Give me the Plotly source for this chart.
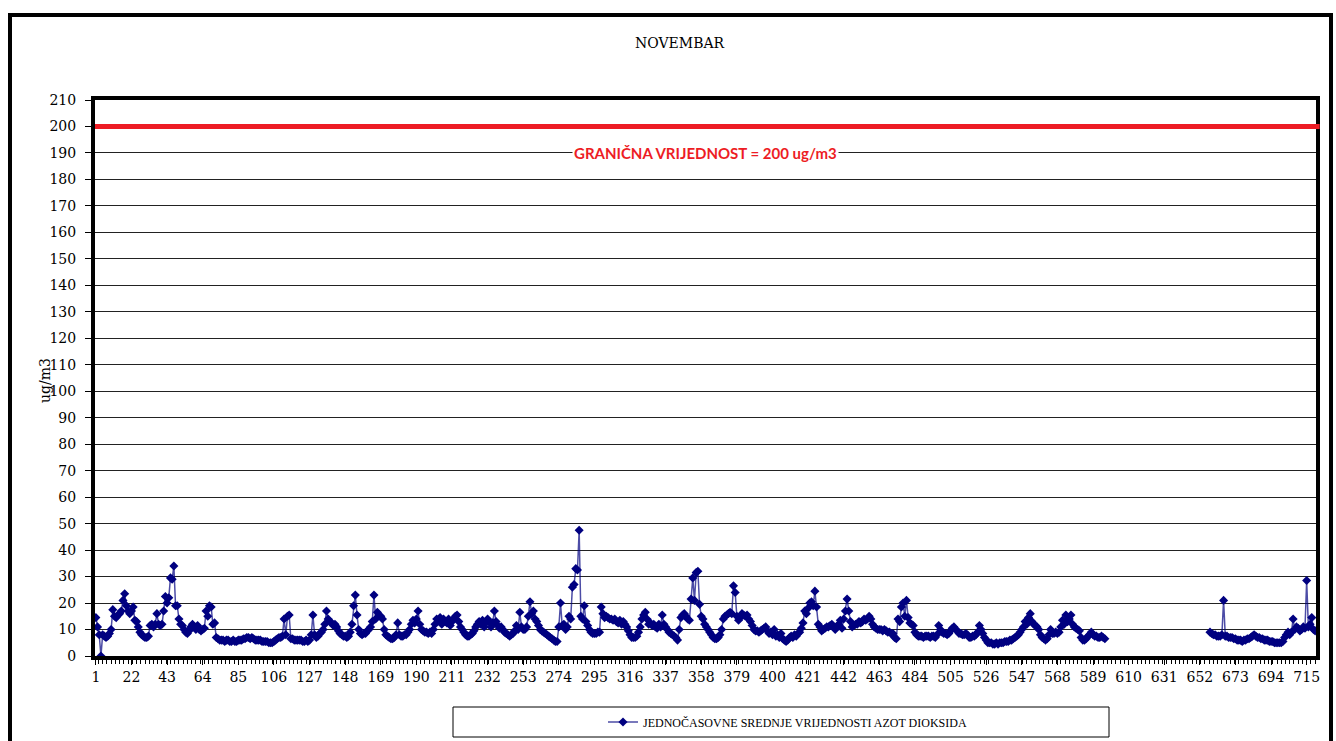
import plotly.graph_objects as go

# Hourly NO2 values, November (720 hours); None = missing data
day01 = [14.5, 11, 8, 0, 8, 7.5, 7, 7.5, 8.5, 10, 17.5, 15, 14.5, 15.5, 16, 17, 21, 23.5, 19, 17, 16, 17, 18.5, 13.5]
day02 = [13, 11, 9, 8, 7.5, 7, 7, 7.5, 11.5, 12, 11, 12, 16, 12, 11.5, 12, 17, 22.5, 20, 22, 29.5, 29, 34, 19]
day03 = [19, 14, 12, 11.5, 10, 9, 8.5, 9.5, 11, 12, 11, 10, 11.5, 10, 9.5, 10, 10.5, 17, 15, 19, 18.5, 12, 12.5, 7]
day04 = [6.5, 6, 6, 6, 5.5, 6, 6, 5.5, 5.5, 6, 5.5, 5.5, 6, 6, 6, 6.5, 6.5, 7, 7, 6.5, 7, 6.5, 6, 6]
day05 = [6, 6, 5.5, 5.5, 5.5, 5.5, 5, 5, 5, 5.5, 6, 6.5, 7, 7, 7.5, 14, 8, 15, 15.5, 6.5, 6.5, 6, 6, 6]
day06 = [6, 6, 5.5, 5.5, 6, 5.5, 6, 8, 15.5, 8, 7, 7.5, 8.5, 9, 10, 12, 17, 14, 13, 12.5, 11.5, 12, 11, 9.5]
day07 = [8.5, 8, 7.5, 7.5, 7, 7.5, 9, 12, 19, 23, 15.5, 10, 8.5, 8, 8.5, 8.5, 9.5, 10, 11, 13, 23, 14, 16.5, 15.5]
day08 = [15, 14, 10, 8, 7.5, 7, 6.5, 6.5, 7, 8, 12.5, 8, 7.5, 7.5, 8, 8, 9, 10, 12, 13.5, 12.5, 14, 17, 12]
day09 = [10, 9.5, 9, 9, 8.5, 9, 8.5, 10, 12, 14, 13.5, 14.5, 12, 14, 13, 12.5, 14, 11.5, 13, 14, 15, 15.5, 13, 11]
day10 = [10, 9, 8, 7.5, 7.5, 8, 8.5, 9.5, 11, 12, 13, 12, 13.5, 11, 12.5, 14, 13, 11, 12.5, 17, 13, 11.5, 10.5, 11]
day11 = [10, 9, 8.5, 8, 7.5, 8, 8.5, 9.5, 11.5, 10, 16.5, 11, 10, 10, 11, 15, 20.5, 16, 17, 14, 13, 11.5, 10, 9.5]
day12 = [9, 8.5, 8, 7.5, 7, 6.5, 6, 5.5, 5.5, 11, 20, 11.5, 12, 10, 11, 15, 14, 26, 27, 33, 32.5, 47.5, 15, 14]
day13 = [19, 13, 11.5, 10, 9, 8.5, 8.5, 8.5, 9, 9, 18.5, 16, 14.5, 15, 14.5, 14, 14, 13.5, 14, 13, 12.5, 13.5, 12, 13]
day14 = [12, 11, 9.5, 8, 7, 7, 7, 7.5, 9, 11, 14, 15.5, 16.5, 14, 12, 12.5, 11.5, 12, 11, 10.5, 12, 11, 15.5, 12]
day15 = [11, 10, 9, 8.5, 8, 7.5, 7, 6, 10, 14.5, 15.5, 16, 15, 14, 13.5, 21.5, 29.5, 21, 31.5, 32, 19.5, 15, 14, 12]
day16 = [11, 10, 9, 8, 7, 6.5, 6.5, 7, 8, 10, 14, 15, 15.5, 16, 16.5, 16, 26.5, 24, 15, 13.5, 14.5, 16, 15.5, 15]
day17 = [15.5, 14, 13, 11.5, 10, 9.5, 9.5, 9, 9.5, 10, 10.5, 11, 9.5, 8.5, 9, 8, 10, 7.5, 8, 7, 8.5, 6.5, 6, 5.5]
day18 = [6, 7, 7.5, 7, 8, 7.5, 8.5, 9, 10.5, 12.5, 17, 16, 18, 20, 20.5, 19, 24.5, 18.5, 12, 11, 9.5, 10, 10.5, 11]
day19 = [11, 11.5, 12, 11, 10, 11, 12, 13.5, 10.5, 14, 17, 21.5, 17, 13, 11, 11.5, 12, 12, 13, 12.5, 13, 14, 13.5, 14]
day20 = [15, 14, 12, 11, 10.5, 10, 10, 10, 9.5, 10, 9.5, 9, 9, 8.5, 8.5, 7, 6.5, 14, 13, 18.5, 20, 15, 21, 14.5]
day21 = [12.5, 12, 11.5, 9, 8, 7.5, 7.5, 7.5, 7, 7.5, 7.5, 7.5, 7, 7.5, 7.5, 7, 8, 11.5, 10, 9, 8.5, 8.5, 8, 8.5]
day22 = [9.5, 10.5, 11, 10, 9.5, 8.5, 8.5, 8, 8, 8.5, 8, 7, 7, 7.5, 7.5, 8, 9, 11.5, 10, 8.5, 7, 6, 5, 5]
day23 = [5, 4.5, 4.5, 5, 4.5, 5, 5, 5, 5.5, 5.5, 5.5, 6, 6, 6.5, 7, 7.5, 8, 9, 10, 11, 13, 12, 14.5, 16]
day24 = [13, 12, 11.5, 11, 10, 8, 7, 6.5, 6, 6.5, 8, 10, 8.5, 8.5, 9, 8.5, 9, 11, 13.5, 12, 15.5, 13, 14, 15.5]
day25 = [12, 11, 10.5, 10, 9.5, 7, 6, 6, 6.5, 7.5, 8, 9, 8, 7.5, 7.5, 7, 7, 7.5, 7, 6.5, None, None, None, None]
day26 = [None] * 24
day27 = [None] * 24
day28 = [None, None, None, None, None, None, None, None, None, 9, 8.5, 8, 8, 7.5, 7.5, 7.5, 8, 21, 7.5, 7.5, 7, 7, 7, 6.5]
day29 = [6.5, 6, 6, 6, 5.5, 6, 6, 6.5, 6.5, 7, 7.5, 8, 7.5, 7, 7, 6.5, 6.5, 6, 6, 6, 5.5, 5.5, 5.5, 5]
day30 = [5, 5, 5, 5, 5.5, 7, 8, 9, 8, 9, 14, 10, 11, 10.5, 9.5, 10, 11, 10.5, 28.5, 11, 12, 14.5, 10, 9.5]

days = [day01, day02, day03, day04, day05, day06, day07, day08, day09, day10,
        day11, day12, day13, day14, day15, day16, day17, day18, day19, day20,
        day21, day22, day23, day24, day25, day26, day27, day28, day29, day30]
no2_values = [v for d in days for v in d]
hours = list(range(1, len(no2_values) + 1))

x_tick_labels = [1, 22, 43, 64, 85, 106, 127, 148, 169, 190, 211, 232, 253, 274, 295, 316,
                 337, 358, 379, 400, 421, 442, 463, 484, 505, 526, 547, 568, 589, 610, 631,
                 652, 673, 694, 715]
limit_value = 200
series_name = "JEDNOČASOVNE SREDNJE VRIJEDNOSTI AZOT DIOKSIDA"
limit_text = "GRANIČNA VRIJEDNOST = 200 ug/m3"
title_text = "NOVEMBAR"
y_title = "ug/m3"

W, H = 1336, 741
L, R, T, B = 95, 1316, 100, 656


def px_x(px):
    return (px - L) / (R - L)


def px_y(py):
    return (B - py) / (B - T)


fig = go.Figure()
fig.add_trace(go.Scatter(
    x=hours, y=no2_values, mode="lines+markers", name=series_name,
    connectgaps=False,
    line=dict(color="rgba(0,0,128,0.7)", width=1.5),
    marker=dict(symbol="diamond", size=7, color="#000080"),
))

serif = "DejaVu Serif"
fig.update_layout(
    width=W, height=H,
    margin=dict(l=L, r=W - R, t=T, b=H - B, pad=0, autoexpand=False),
    paper_bgcolor="white", plot_bgcolor="white",
    showlegend=True,
    legend=dict(x=px_x(603), y=px_y(722), xanchor="left", yanchor="middle",
                bgcolor="rgba(0,0,0,0)", borderwidth=0,
                font=dict(family="Liberation Serif", size=12, color="black")),
    xaxis=dict(
        range=[0.5, 720.5], tickmode="array", tickvals=x_tick_labels,
        ticktext=[str(v) for v in x_tick_labels],
        ticks="outside", ticklen=5, tickcolor="black", tickwidth=1,
        minor=dict(dtick=2.5, ticks="outside", ticklen=4, tickcolor="black", tickwidth=1),
        showgrid=False, zeroline=False,
        showline=True, linecolor="black", linewidth=4, mirror=True,
        tickfont=dict(family=serif, size=14, color="black"),
    ),
    yaxis=dict(
        range=[0, 210], dtick=10, tick0=0,
        ticks="outside", ticklen=6, tickcolor="black", tickwidth=1,
        ticklabelstandoff=6,
        showgrid=True, gridcolor="#222222", gridwidth=1,
        zeroline=False,
        showline=True, linecolor="black", linewidth=4, mirror=True,
        tickfont=dict(family=serif, size=14, color="black"),
    ),
    shapes=[
        dict(type="line", xref="paper", yref="y", x0=0, x1=1.003, y0=limit_value, y1=limit_value,
             line=dict(color="#ED1C24", width=5), layer="above"),
        dict(type="rect", xref="paper", yref="paper", x0=px_x(453), x1=px_x(1109),
             y0=px_y(737), y1=px_y(707), line=dict(color="black", width=1)),
        dict(type="rect", xref="paper", yref="paper", x0=px_x(10), x1=px_x(1331),
             y0=px_y(780), y1=px_y(15), line=dict(color="black", width=4)),
    ],
    annotations=[
        dict(text=title_text, xref="paper", yref="paper", x=px_x(680), y=px_y(43),
             xanchor="center", yanchor="middle",
             showarrow=False, font=dict(family=serif, size=14, color="black")),
        dict(text="<b>" + limit_text + "</b>", xref="paper", yref="y", x=px_x(705), y=190,
             xanchor="center", yanchor="middle",
             showarrow=False, bgcolor="white", borderpad=1,
             font=dict(family="Lato", size=15, color="#ED1C24")),
        dict(text=y_title, xref="paper", yref="paper", x=px_x(45), y=px_y(381),
             xanchor="center", yanchor="middle",
             showarrow=False, textangle=-90,
             font=dict(family=serif, size=14, color="black")),
    ],
)

fig.write_html("out.html", config={"displayModeBar": False},
               post_script="document.body.style.margin='0';document.body.style.overflow='hidden';")
